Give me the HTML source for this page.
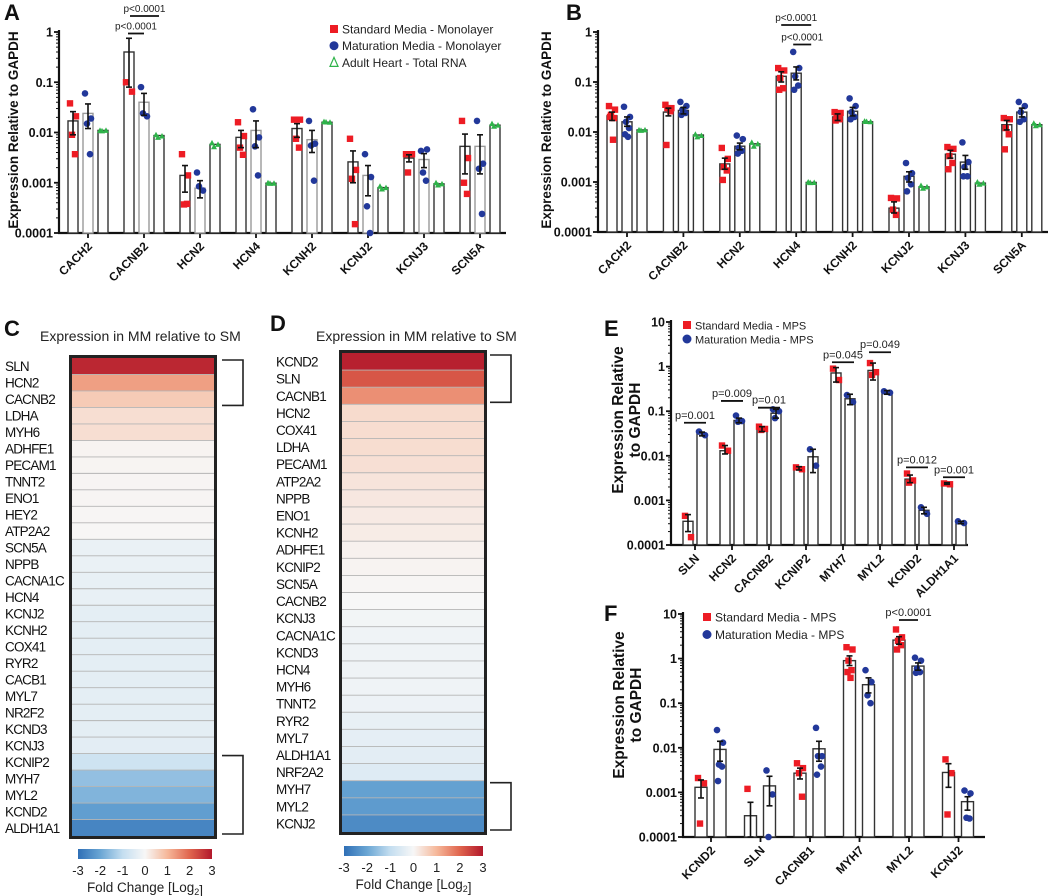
<!DOCTYPE html>
<html><head><meta charset="utf-8"><style>
html,body{margin:0;padding:0;background:#fff;}
svg{display:block;font-family:"Liberation Sans",Arial,sans-serif;}
</style></head><body>
<svg id="fig" width="1050" height="896" viewBox="0 0 1050 896" xmlns="http://www.w3.org/2000/svg"></svg>
<script>
// ---------- Panel A data ----------
const aCats=["CACH2","CACNB2","HCN2","HCN4","KCNH2","KCNJ2","KCNJ3","SCN5A"];
const aSM=[0.017,0.4,0.0014,0.008,0.012,0.0026,0.0031,0.0053];
const aSMlo=[0.009,0.08,0.00065,0.005,0.008,0.001,0.0026,0.0015];
const aSMhi=[0.026,0.75,0.0022,0.011,0.015,0.0043,0.0036,0.0093];
const aSMpts=[[0.038,0.021,0.009,0.0037],[0.1,0.065],[0.0037,0.0014,0.00037,0.00038],[0.016,0.0085,0.005,0.0036],[0.018,0.018,0.0075,0.005],[0.0075,0.0018,0.0012,0.00015],[0.0037,0.0037,0.0016],[0.017,0.0031,0.001,0.0006]];
const aMM=[0.024,0.04,0.00078,0.011,0.0072,0.0014,0.0029,0.0053];
const aMMlo=[0.012,0.022,0.0005,0.005,0.004,0.00055,0.002,0.0015];
const aMMhi=[0.037,0.06,0.0011,0.017,0.011,0.0022,0.0038,0.009];
const aMMpts=[[0.06,0.019,0.015,0.0037],[0.08,0.021,0.024],[0.0016,0.0007,0.00085],[0.029,0.008,0.0053,0.0014],[0.017,0.006,0.0055,0.0011],[0.0037,0.0013,0.00034,0.0001],[0.0043,0.0046,0.0016,0.0011],[0.017,0.0024,0.0019,0.00024]];
const aAH=[0.011,0.0087,0.0058,0.00098,0.016,0.0008,0.00095,0.014];
const aAHpts=[[0.011,0.011,0.0108],[0.009,0.0085,0.008],[0.0062,0.0058,0.0052],[0.001,0.00098,0.00097],[0.0165,0.016,0.0162],[0.00085,0.0008,0.00075],[0.001,0.00095,0.0009],[0.015,0.014,0.0133]];
// ---------- Panel B data ----------
const bCats=["CACH2","CACNB2","HCN2","HCN4","KCNH2","KCNJ2","KCNJ3","SCN5A"];
const bSM=[0.021,0.025,0.0023,0.13,0.02,0.0003,0.0036,0.014];
const bSMlo=[0.017,0.021,0.0018,0.1,0.017,0.00024,0.003,0.011];
const bSMhi=[0.025,0.03,0.003,0.16,0.023,0.0004,0.0043,0.017];
const bSMpts=[[0.033,0.028,0.022,0.019,0.02,0.007],[0.035,0.03,0.03,0.026,0.0055],[0.0048,0.0029,0.002,0.0017,0.0011],[0.19,0.17,0.12,0.075,0.07],[0.025,0.024,0.02,0.018,0.017],[0.00048,0.00047,0.00028,0.00022],[0.005,0.0046,0.0033,0.0024,0.0018],[0.019,0.018,0.012,0.009,0.0045]];
const bMM=[0.016,0.027,0.0052,0.15,0.026,0.0013,0.0025,0.025];
const bMMlo=[0.013,0.023,0.0044,0.11,0.021,0.001,0.0018,0.02];
const bMMhi=[0.02,0.031,0.006,0.2,0.031,0.0016,0.0034,0.03];
const bMMpts=[[0.032,0.02,0.016,0.012,0.009,0.008],[0.04,0.033,0.028,0.024,0.022],[0.0085,0.0072,0.0048,0.0042,0.0037],[0.4,0.19,0.13,0.085,0.07],[0.047,0.033,0.025,0.02,0.018],[0.0024,0.0015,0.0012,0.0009,0.00065],[0.0062,0.0025,0.002,0.0013,0.0013],[0.04,0.033,0.025,0.018,0.016]];
const bAH=[0.011,0.0087,0.0058,0.00098,0.016,0.0008,0.00095,0.014];
const bAHpts=[[0.011,0.011,0.0108],[0.009,0.0085,0.008],[0.0062,0.0058,0.0052],[0.001,0.00098,0.00097],[0.0165,0.016,0.0162],[0.00085,0.0008,0.00075],[0.001,0.00095,0.0009],[0.015,0.014,0.0133]];
// ---------- Panel E data ----------
const eCats=["SLN","HCN2","CACNB2","KCNIP2","MYH7","MYL2","KCND2","ALDH1A1"];
const eSM=[0.00034,0.013,0.04,0.0052,0.72,0.82,0.003,0.0024];
const eSMlo=[0.0002,0.011,0.035,0.0048,0.45,0.5,0.0025,0.0023];
const eSMhi=[0.00048,0.017,0.045,0.0057,0.95,1.2,0.0037,0.0025];
const eSMpts=[[0.00045,0.00015],[0.017,0.013],[0.045,0.04,0.038],[0.0055,0.005],[0.9,0.5],[1.2,0.75,0.65],[0.004,0.0028,0.0025],[0.0024,0.0023]];
const eMM=[0.031,0.062,0.09,0.0095,0.19,0.27,0.0006,0.00032];
const eMMlo=[0.028,0.055,0.07,0.0042,0.14,0.24,0.0005,0.0003];
const eMMhi=[0.034,0.07,0.11,0.014,0.24,0.29,0.0007,0.00034];
const eMMpts=[[0.035,0.029],[0.08,0.06,0.058],[0.11,0.1,0.07],[0.014,0.006],[0.23,0.16],[0.28,0.26],[0.0007,0.0005],[0.00034,0.00031]];
const ePText=["p=0.001","p=0.009","p=0.01",null,"p=0.045","p=0.049","p=0.012","p=0.001"];
const ePLevel=[0.055,0.17,0.12,null,1.25,2.1,0.0055,0.0033];
// ---------- Panel F data ----------
const fCats=["KCND2","SLN","CACNB1","MYH7","MYL2","KCNJ2"];
const fSM=[0.0013,0.0003,0.0027,0.9,2.6,0.0028];
const fSMlo=[0.00075,0.0001,0.002,0.7,2.1,0.0013];
const fSMhi=[0.0019,0.0006,0.0035,1.15,3.1,0.0044];
const fSMpts=[[0.0021,0.0016,0.0002],[0.0012],[0.0045,0.0035,0.0027,0.0008],[1.8,1.6,0.9,0.55,0.5,0.37],[4.5,3,2.5,2,1.6],[0.0055,0.0027,0.00032]];
const fMM=[0.0092,0.0014,0.0095,0.26,0.68,0.00062];
const fMMlo=[0.005,0.0005,0.005,0.17,0.55,0.0004];
const fMMhi=[0.014,0.0023,0.014,0.37,0.8,0.0008];
const fMMpts=[[0.025,0.013,0.0042,0.0038,0.0018],[0.0031,0.0009,0.0001],[0.028,0.0065,0.0065,0.0038,0.0025],[0.55,0.3,0.15,0.1],[1.05,0.9,0.6,0.5,0.48],[0.0011,0.00095,0.00027,0.00026]];
// ---------- Heatmap data ----------
const cGenes=["SLN","HCN2","CACNB2","LDHA","MYH6","ADHFE1","PECAM1","TNNT2","ENO1","HEY2","ATP2A2","SCN5A","NPPB","CACNA1C","HCN4","KCNJ2","KCNH2","COX41","RYR2","CACB1","MYL7","NR2F2","KCND3","KCNJ3","KCNIP2","MYH7","MYL2","KCND2","ALDH1A1"];
const cVals=[2.8,1.3,0.7,0.4,0.4,0.06,0.05,0.04,0.04,0.03,0.02,-0.25,-0.25,-0.3,-0.3,-0.38,-0.38,-0.38,-0.38,-0.38,-0.38,-0.38,-0.38,-0.4,-0.8,-1.55,-1.75,-2.15,-2.6];
const dGenes=["KCND2","SLN","CACNB1","HCN2","COX41","LDHA","PECAM1","ATP2A2","NPPB","ENO1","KCNH2","ADHFE1","KCNIP2","SCN5A","CACNB2","KCNJ3","CACNA1C","KCND3","HCN4","MYH6","TNNT2","RYR2","MYL7","ALDH1A1","NRF2A2","MYH7","MYL2","KCNJ2"];
const dVals=[2.9,2.2,1.5,0.45,0.42,0.42,0.38,0.3,0.25,0.2,0.18,0.1,0.06,0.03,0.0,-0.1,-0.15,-0.15,-0.15,-0.15,-0.2,-0.3,-0.35,-0.4,-0.5,-2.1,-2.2,-2.5];
const cbTicks=["-3","-2","-1","0","1","2","3"];

const NS="http://www.w3.org/2000/svg";
const svg=document.getElementById('fig');
function el(tag,attrs,parent,txt){const e=document.createElementNS(NS,tag);for(const k in attrs)e.setAttribute(k,attrs[k]);if(txt!==undefined)e.textContent=txt;(parent||svg).appendChild(e);return e;}
function grp(name){const g=el('g',{});return g;}

const RED="#ed1c24",BLUE="#22389a",GREEN="#2fb34a";
const jit=[-3,3,-1,2,-2,1,0];

function chart(c){
  const g=grp(c.name);
  const lmin=Math.log10(c.min),lmax=Math.log10(c.max);
  const Y=v=>c.yb-(Math.log10(Math.max(v,c.min))-lmin)/(lmax-lmin)*(c.yb-c.yt);
  const X=i=>c.cx0+i*c.step;
  const ya=grp('y-axis');g.appendChild(ya);
  el('line',{x1:c.ax,y1:c.yt-2,x2:c.ax,y2:c.yb,stroke:'#111','stroke-width':2.2},ya);
  for(let d=lmin;d<=lmax;d++){
    const y=Y(Math.pow(10,d));
    el('line',{x1:c.ax-5,y1:y,x2:c.ax,y2:y,stroke:'#111','stroke-width':1.8},ya);
    const lab=Math.pow(10,d)>=1?String(Math.round(Math.pow(10,d))):Math.pow(10,d).toFixed(-d);
    const t=el('text',{x:c.ax-6,y:y+4.5,'text-anchor':'end','font-size':12.5,'font-weight':'bold',fill:'#111'},ya,lab);
    
    if(d<lmax)for(let m=2;m<10;m++){const ym=Y(m*Math.pow(10,d));el('line',{x1:c.ax-3,y1:ym,x2:c.ax,y2:ym,stroke:'#111','stroke-width':1},ya);}
  }
  const xa=grp('x-axis');g.appendChild(xa);
  el('line',{x1:c.ax-1,y1:c.yb,x2:c.xe,y2:c.yb,stroke:'#111','stroke-width':2.2},xa);
  c.cats.forEach((n,i)=>{
    const x=X(i);
    el('line',{x1:x,y1:c.yb,x2:x,y2:c.yb+5,stroke:'#111','stroke-width':1.8},xa);
    const t=el('text',{x:x+5,y:c.yb+14,'text-anchor':'end','font-size':12,'font-weight':'bold',fill:'#111',transform:`rotate(-45 ${x+5} ${c.yb+14})`},xa,n);
    
  });
  c.series.forEach((s,si)=>{
    const sg=grp('series-'+s.key);g.appendChild(sg);
    s.mean.forEach((v,i)=>{
      const x=X(i)+c.off[si];const y=Y(v);
      const b=el('rect',{x:x-c.bw/2,y:y,width:c.bw,height:c.yb-y,fill:'#fff',stroke:s.bar||'#333','stroke-width':1.4},sg);
      
      (s.pts[i]||[]).forEach((p,k)=>{
        const px=x+jit[k%jit.length],py=Y(p);
        let m;
        if(s.shape==='sq')m=el('rect',{x:px-3.2,y:py-3.2,width:6.4,height:6.4,fill:s.color},sg);
        else if(s.shape==='ci')m=el('circle',{cx:px,cy:py,r:3.3,fill:s.color},sg);
        else m=el('path',{d:`M${px-3},${py+2.5}L${px+3},${py+2.5}L${px},${py-3}Z`,fill:s.color},sg);
        
      });
      if(s.lo){
        const y1=Y(s.lo[i]),y2=Y(s.hi[i]);
        el('line',{x1:x,y1:y1,x2:x,y2:y2,stroke:'#111','stroke-width':1.6},sg);
        el('line',{x1:x-3,y1:y1,x2:x+3,y2:y1,stroke:'#111','stroke-width':1.6},sg);
        el('line',{x1:x-3,y1:y2,x2:x+3,y2:y2,stroke:'#111','stroke-width':1.6},sg);
      }
    });
  });
  c.ytitle.forEach((ln,k)=>{
    const tx=c.ytx+k*17;
    const t=el('text',{x:tx,y:c.yty,'text-anchor':'middle','font-size':c.ytfs||13.5,'font-weight':'bold',fill:'#111',transform:`rotate(-90 ${tx} ${c.yty})`},g,ln);
    
  });
  return {Y,X,g};
}
function panelLabel(t,x,y){const e=el('text',{x:x,y:y,'font-size':22,'font-weight':'bold',fill:'#111'},svg,t);}
function legend(items,x,y,dy,fs){
  const g=grp('legend');
  items.forEach((it,k)=>{
    const yy=y+k*dy;
    const lg=grp('legend-entry');g.appendChild(lg);
    if(it.shape==='sq')el('rect',{x:x-4,y:yy-4,width:8,height:8,fill:it.color},lg);
    else if(it.shape==='ci')el('circle',{cx:x,cy:yy,r:4.5,fill:it.color},lg);
    else el('path',{d:`M${x-4},${yy+4}L${x+4},${yy+4}L${x},${yy-5}Z`,fill:'none',stroke:it.color,'stroke-width':1.2},lg);
    el('text',{x:x+8,y:yy+4.5,'font-size':fs,fill:'#222'},lg,it.text);
  });
}
function pbar(x1,x2,y,txt,fs){
  const g=grp('p-value-annotation');
  el('line',{x1:x1,y1:y,x2:x2,y2:y,stroke:'#111','stroke-width':1.8},g);
  el('text',{x:(x1+x2)/2,y:y-4,'text-anchor':'middle','font-size':fs,fill:'#222'},g,txt);
}

panelLabel('A',4,20);
const A=chart({name:'chart-a',ax:59,xe:506,yt:32,yb:233,min:1e-4,max:1,cx0:88,step:56,off:[-15,0,15],bw:10,cats:aCats,
 ytitle:['Expression Relative to GAPDH'],ytx:18,yty:130,
 series:[{key:'sm',mean:aSM,lo:aSMlo,hi:aSMhi,pts:aSMpts,color:RED,shape:'sq'},
         {key:'mm',mean:aMM,lo:aMMlo,hi:aMMhi,pts:aMMpts,color:BLUE,shape:'ci',bar:'#999'},
         {key:'ah',mean:aAH,pts:aAHpts,color:GREEN,shape:'tr'}]});
pbar(A.X(1)-16,A.X(1),33.5,'p<0.0001',10);
pbar(A.X(1)-14,A.X(1)+15,16,'p<0.0001',10);
legend([{shape:'sq',color:RED,text:'Standard Media - Monolayer'},{shape:'ci',color:BLUE,text:'Maturation Media - Monolayer'},{shape:'tr',color:GREEN,text:'Adult Heart - Total RNA'}],334,29,16.7,12);

panelLabel('B',566,20);
const B=chart({name:'chart-b',ax:598,xe:1048,yt:32,yb:232,min:1e-4,max:1,cx0:627,step:56.4,off:[-15,0,15],bw:10,cats:bCats,
 ytitle:['Expression Relative to GAPDH'],ytx:551,yty:130,
 series:[{key:'sm',mean:bSM,lo:bSMlo,hi:bSMhi,pts:bSMpts,color:RED,shape:'sq'},
         {key:'mm',mean:bMM,lo:bMMlo,hi:bMMhi,pts:bMMpts,color:BLUE,shape:'ci'},
         {key:'ah',mean:bAH,pts:bAHpts,color:GREEN,shape:'tr'}]});
pbar(B.X(3)-15,B.X(3)+15,25,'p<0.0001',10);
pbar(B.X(3)-3,B.X(3)+15,44.5,'p<0.0001',10);

panelLabel('E',604,336);
const E=chart({name:'chart-e',ax:671,xe:968,yt:322,yb:545,min:1e-4,max:10,cx0:695,step:37,off:[-7,7],bw:10,cats:eCats,
 ytitle:['Expression Relative','to GAPDH'],ytx:623,yty:420,ytfs:15.5,
 series:[{key:'sm',mean:eSM,lo:eSMlo,hi:eSMhi,pts:eSMpts,color:RED,shape:'sq'},
         {key:'mm',mean:eMM,lo:eMMlo,hi:eMMhi,pts:eMMpts,color:BLUE,shape:'ci'}]});
ePText.forEach((t,i)=>{if(t)pbar(E.X(i)-11,E.X(i)+11,E.Y(ePLevel[i]),t,11);});
legend([{shape:'sq',color:RED,text:'Standard Media - MPS'},{shape:'ci',color:BLUE,text:'Maturation Media - MPS'}],687,325,14,11);

panelLabel('F',604,621);
const F=chart({name:'chart-f',ax:683,xe:985,yt:614,yb:837,min:1e-4,max:10,cx0:711,step:49.5,off:[-10,9],bw:12,cats:fCats,
 ytitle:['Expression Relative','to GAPDH'],ytx:624,yty:705,ytfs:15.5,
 series:[{key:'sm',mean:fSM,lo:fSMlo,hi:fSMhi,pts:fSMpts,color:RED,shape:'sq'},
         {key:'mm',mean:fMM,lo:fMMlo,hi:fMMhi,pts:fMMpts,color:BLUE,shape:'ci'}]});
pbar(F.X(4)-10,F.X(4)+9,620,'p<0.0001',11);
legend([{shape:'sq',color:RED,text:'Standard Media - MPS'},{shape:'ci',color:BLUE,text:'Maturation Media - MPS'}],707,617,17.5,12);

const stops=[[-3,[47,111,182]],[-2,[106,166,212]],[-1,[196,222,240]],[0,[247,247,247]],[1,[246,184,154]],[2,[224,101,78]],[3,[178,24,43]]];
function cmap(v){v=Math.max(-3,Math.min(3,v));for(let i=0;i<stops.length-1;i++){const [a,ca]=stops[i],[b,cb]=stops[i+1];if(v<=b){const t=(v-a)/(b-a);return 'rgb('+ca.map((c,k)=>Math.round(c+(cb[k]-c)*t)).join(',')+')';}}return 'rgb(178,24,43)';}
const defs=el('defs',{});
const lg=el('linearGradient',{id:'cb',x1:0,x2:1,y1:0,y2:0},defs);
stops.forEach(s=>el('stop',{offset:((s[0]+3)/6*100)+'%','stop-color':'rgb('+s[1].join(',')+')'},lg));

function heat(name,genes,vals,x0,x1,y0,y1,lx,title,tx,ty,br1,br2,bx,cb){
  const g=grp(name);
  const t=el('text',{x:tx,y:ty,'font-size':14,fill:'#222'},g,title);
  const h=(y1-y0)/genes.length;
  genes.forEach((gn,i)=>{
    const r=el('rect',{x:x0,y:y0+i*h,width:x1-x0,height:h,fill:cmap(vals[i])},g);
    
    if(i>0)el('line',{x1:x0,y1:y0+i*h,x2:x1,y2:y0+i*h,stroke:'#b5b5b5','stroke-width':0.9},g);
    const lt=el('text',{x:lx,y:y0+i*h+h/2+5,'font-size':13.5,'letter-spacing':'-0.8',fill:'#111'},g,gn);
  });
  el('rect',{x:x0-1.5,y:y0-1.5,width:x1-x0+3,height:y1-y0+3,fill:'none',stroke:'#222','stroke-width':3},g);
  [br1,br2].forEach(b=>{const yb0=y0+b[0]*h+2,yb1=y0+b[1]*h-2;el('path',{d:`M${bx},${yb0}H${bx+21}V${yb1}H${bx}`,fill:'none',stroke:'#222','stroke-width':1.6},g);});
  const cg=grp('colorbar');g.appendChild(cg);
  el('rect',{x:cb[0],y:cb[2],width:cb[1]-cb[0],height:10,fill:'url(#cb)'},cg);
  cbTicks.forEach((tk,i)=>{el('text',{x:cb[0]+i*(cb[1]-cb[0])/6,y:cb[2]+26,'text-anchor':'middle','font-size':13,fill:'#222'},cg,tk);});
  const ft=el('text',{x:(cb[0]+cb[1])/2,y:cb[2]+43,'text-anchor':'middle','font-size':13.5,fill:'#222'},cg);
  
  ft.appendChild(document.createTextNode('Fold Change [Log'));
  el('tspan',{'font-size':9,dy:3},ft,'2');ft.appendChild(document.createTextNode(']'));
}
panelLabel('C',4,336);
heat('heatmap-c',cGenes,cVals,72,214,358,836,5,'Expression in MM relative to SM',40,341,[0,3],[24,29],222,[78,212,849]);
panelLabel('D',270,331);
heat('heatmap-d',dGenes,dVals,342,484,353,832,276,'Expression in MM relative to SM',316,341,[0,3],[25,28],490,[344,483,846]);
</script>
</body></html>
